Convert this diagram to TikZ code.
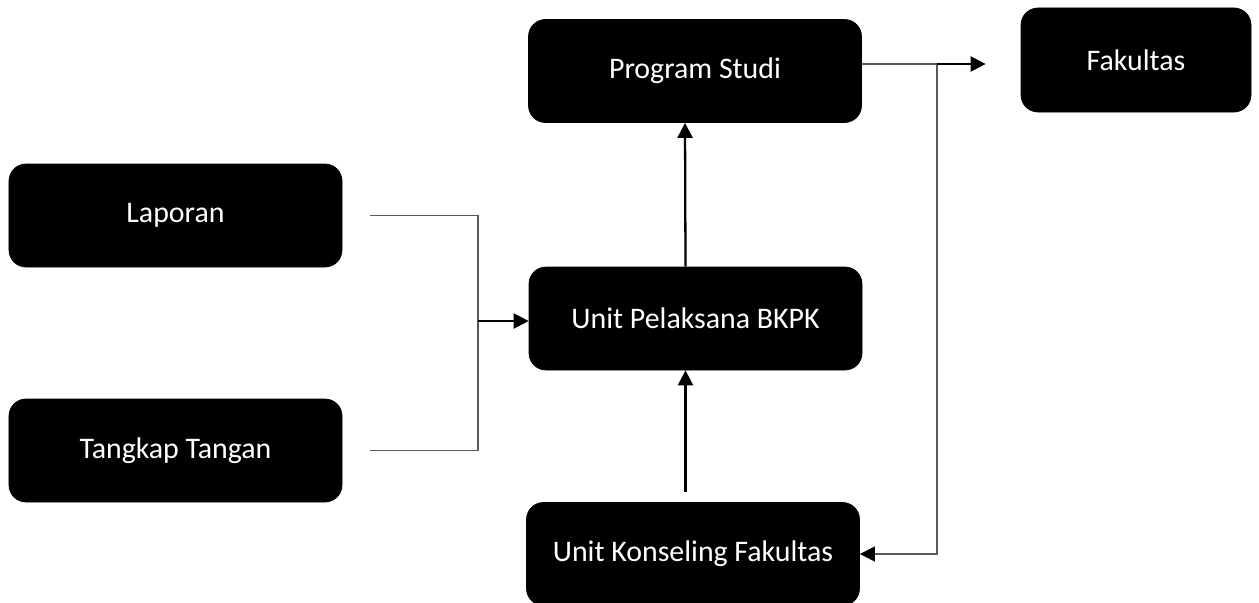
\documentclass[tikz,border=0pt]{standalone}
\usepackage{fontspec}
\setmainfont{Carlito}
\usepackage{tikz}
\usepackage{xcolor}
\usetikzlibrary{arrows.meta,positioning}

\definecolor{abu}{HTML}{595959}

\tikzset{
	kotak/.style={draw=black, fill=black, rounded corners=0.34cm, text=white, minimum width=6.66cm, minimum height=2.06cm, inner sep=0pt, font=\fontsize{17}{20}\selectfont},
	garis/.style={draw=abu, line width=0.6pt},
	panah/.style={draw=black, line width=1.3pt, -{Triangle[length=8.5pt,width=8.5pt]}},
	ujung/.style={-{Triangle[length=8.5pt,width=8.5pt,black]}}
}

\begin{document}
\begin{tikzpicture}
				\useasboundingbox (0,0) rectangle (25.18,-12.04);
				\node[kotak] (lap) at (3.51,-4.31) {Laporan};
				\node[kotak] (tkp) at (3.51,-9.01) {Tangkap Tangan};
				\node[kotak] (ps) at (13.9,-1.42) {Program Studi};
				\node[kotak] (upk) at (13.91,-6.37) {Unit Pelaksana BKPK};
				\node[kotak] (ukf) at (13.86,-11.08) {Unit Konseling Fakultas};
				\node[kotak, minimum width=4.6cm, minimum height=2.08cm] (fak) at (22.72,-1.2) {Fakultas};
				\coordinate (gabung) at (9.56,-6.42);
				\coordinate (belok) at (18.74,-1.28);
				% laporan dan tangkap tangan masuk ke unit pelaksana
				\draw[garis] ([xshift=0.56cm]lap.east) -| (gabung) |- ([xshift=0.56cm]tkp.east);
				\draw[panah] (gabung) -- (gabung -| upk.west);
				\draw[panah] ([xshift=-0.2cm]upk.north) -- ([xshift=-0.2cm]ps.south);
				\draw[panah] ([xshift=-0.2cm,yshift=0.2cm]upk.south |- ukf.north) -- ([xshift=-0.2cm]upk.south);
				% program studi ke fakultas dan unit konseling
				\draw[garis, ujung] (ps.east |- belok) -- (belok) |- (ukf.east);
				\draw[panah] (belok) -- ([xshift=-0.7cm]fak.west |- belok);
\end{tikzpicture}
\end{document}
